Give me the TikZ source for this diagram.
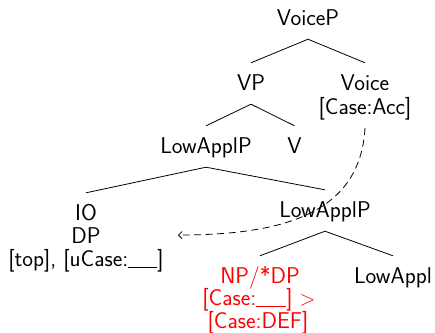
\documentclass[tikz,border=0pt]{standalone}
\usepackage{fontspec}
\usetikzlibrary{arrows.meta}
\newcommand{\blank}[1]{\rule[-1.5pt]{#1}{0.9pt}}
\begin{document}
\begin{tikzpicture}[x=1pt,y=-1pt,
  lbl/.style={anchor=base,inner xsep=0pt,inner ysep=11pt,
    text height=16pt,text depth=3pt,
    font=\sffamily\fontsize{22.8}{23}\selectfont},
  hot/.style={lbl,text=red},
  branch/.style={line width=0.8pt},
  probe/.style={line width=0.8pt,dash pattern=on 7pt off 4.5pt,
    -{Straight Barb[length=3.5pt,width=7pt]}}]
\useasboundingbox (0,0) rectangle (435,332);

% top of the tree
\node[lbl] (voicep) at (308,25) {VoiceP};
\node[lbl] (vp) at (251,90) {VP};
\node[lbl] (voice) at (365,90) {Voice};
\node[lbl] (acc) at (365,114) {[Case:Acc]};
\node[lbl] (applp) at (206,153) {LowApplP};
\node[lbl] (v) at (294.5,153) {V};

% applicative phrase
\node[lbl] (io) at (86,220) {IO};
\node[lbl] (iodp) at (86,243) {DP};
\node[lbl] (iofeat) at (86,266) {[top], [uCase:\blank{29pt}]};
\node[lbl] (applbar) at (325,217) {LowApplP};

% theme and head
\node[hot] (np) at (260,283) {NP/*DP};
\node[hot] (npcase) at (259,305) {[Case:\blank{30pt}] $>$};
\node[hot] (npdef) at (258,328) {[Case:DEF]};
\node[lbl] (appl) at (393,283) {LowAppl};

\draw[branch] (voicep.south) -- (vp.north);
\draw[branch] (voicep.south) -- (voice.north);
\draw[branch] (vp.south) -- (applp.north);
\draw[branch] (vp.south) -- (v.north);
\draw[branch] (applp.south) -- (io.north);
\draw[branch] (applp.south) -- (applbar.north);
\draw[branch] (applbar.south) -- (np.north);
\draw[branch] (applbar.south) -- (appl.north);

% case probe from Voice down to the indirect object
\coordinate (goal) at (178,235);
\draw[probe] (acc.south) .. controls (360,215) and (280,235) .. (goal);
\end{tikzpicture}
\end{document}
